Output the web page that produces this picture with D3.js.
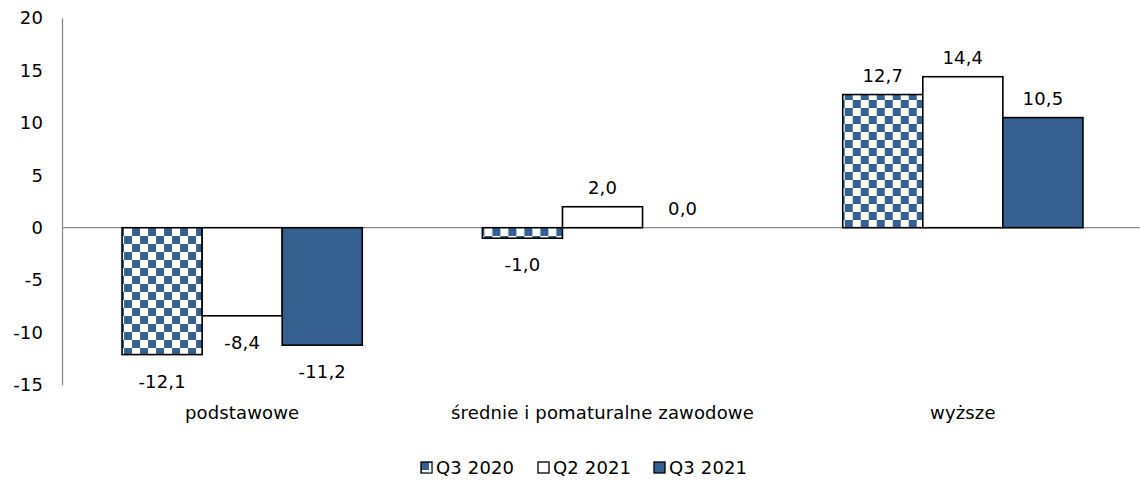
<!DOCTYPE html>
<html><head><meta charset="utf-8">
<script src="https://cdn.jsdelivr.net/npm/d3@7"></script>
<style>
body{margin:0;background:#fff;}
text{font-family:Tahoma,"DejaVu Sans",sans-serif;font-size:18px;fill:#000;letter-spacing:0.15px;}
</style></head><body>
<svg id="c" width="1140" height="485"></svg>
<script>
const categories = ["podstawowe", "średnie i pomaturalne zawodowe", "wyższe"];
const seriesNames = ["Q3 2020", "Q2 2021", "Q3 2021"];
const q3_2020 = [-12.1, -1.0, 12.7];
const q2_2021 = [-8.4, 2.0, 14.4];
const q3_2021 = [-11.2, 0.0, 10.5];
const yTicks = [-15, -10, -5, 0, 5, 10, 15, 20];

const seriesValues = [q3_2020, q2_2021, q3_2021];
const svg = d3.select("#c");
const blue = "#36608f";
const FONT = 'Tahoma,"DejaVu Sans",sans-serif';

const defs = svg.append("defs");
const pat = defs.append("pattern").attr("id","checker").attr("patternUnits","userSpaceOnUse")
  .attr("width",16).attr("height",16).attr("x",122).attr("y",228);
pat.append("rect").attr("width",16).attr("height",16).attr("fill","#fff");
pat.append("rect").attr("width",8).attr("height",8).attr("fill",blue);
pat.append("rect").attr("x",8).attr("y",8).attr("width",8).attr("height",8).attr("fill",blue);

const fills = ["url(#checker)", "#fff", blue];

const y = d3.scaleLinear().domain([-15, 20]).range([385, 18]);
const x0 = d3.scaleBand().domain(categories).range([62, 1143]).paddingInner(1/3).paddingOuter(1/6);
const x1 = d3.scaleBand().domain(seriesNames).range([0, x0.bandwidth()]);

// y axis
const yAxis = d3.axisLeft(y).tickValues(yTicks).tickSize(0).tickPadding(19).tickFormat(d => String(d));
const ga = svg.append("g").attr("transform","translate(62,0)").call(yAxis);
ga.select(".domain").attr("stroke","#888").attr("stroke-width",1.3);
ga.selectAll("text").style("font-family",FONT).style("font-size","18px").attr("fill","#000");

// zero line
svg.append("line").attr("x1",62).attr("x2",1140).attr("y1",y(0)).attr("y2",y(0)).attr("stroke","#888").attr("stroke-width",1.3);

const fmt = v => v.toFixed(1).replace(".", ",");

categories.forEach((c, ci) => {
  const g = svg.append("g").attr("transform", `translate(${x0(c)},0)`);
  seriesNames.forEach((s, si) => {
    const v = seriesValues[si][ci];
    const bx = x1(s), bw = x1.bandwidth();
    if (v !== 0) {
      g.append("rect").attr("x", bx).attr("width", bw)
        .attr("y", y(Math.max(0, v))).attr("height", Math.abs(y(v) - y(0)))
        .attr("fill", fills[si]).attr("stroke", "#000").attr("stroke-width", 1.6);
    }
    g.append("text").attr("x", bx + bw/2)
      .attr("y", v >= 0 ? y(v) - 13 : y(v) + 33)
      .attr("text-anchor","middle").text(fmt(v));
  });
  svg.append("text").attr("x", x0(c) + x0.bandwidth()/2).attr("y", 419)
    .attr("text-anchor","middle").text(c);
});

// legend
const legendX = [421, 538, 654];
seriesNames.forEach((s, si) => {
  const g = svg.append("g").attr("transform", `translate(${legendX[si]},462)`);
  g.append("rect").attr("x",0).attr("y",0).attr("width",11).attr("height",11)
    .attr("fill", si === 0 ? blue : fills[si]).attr("stroke","#000").attr("stroke-width",1.3);
  if (si === 0) {
    g.append("rect").attr("x",8).attr("y",1).attr("width",2.3).attr("height",9.3).attr("fill","#fff");
    g.append("rect").attr("x",1).attr("y",8).attr("width",9.3).attr("height",2.3).attr("fill","#fff");
  }
  g.append("text").attr("x",15).attr("y",12).text(s);
});
</script>
</body></html>
